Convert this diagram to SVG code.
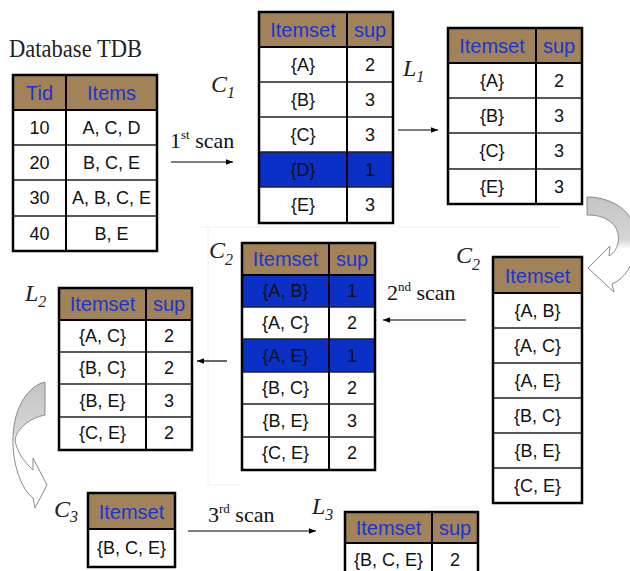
<svg xmlns="http://www.w3.org/2000/svg" width="630" height="571" viewBox="0 0 630 571">
<style>
.hdr{fill:#a28359}
.cell{fill:#ffffff}
.hl{fill:#0a30c8}
.out{fill:none;stroke:#000;stroke-width:2.5}
.grid{stroke:#222;stroke-width:1.4}
.col{stroke:#000;stroke-width:2}
.ht{font-family:"Liberation Sans",Arial,sans-serif;font-size:20px;fill:#1836d4;text-anchor:middle}
.bt{font-family:"Liberation Sans",Arial,sans-serif;font-size:18px;fill:#111;text-anchor:middle}
.lbl{font-family:"Liberation Serif","Times New Roman",serif;font-style:italic;font-size:24px;fill:#222}
.sub{font-size:16px}
.scan{font-family:"Liberation Serif","Times New Roman",serif;font-size:22px;fill:#111}
.sup{font-size:13px}
.conn{stroke:#000;stroke-width:1.2;fill:none}
.faint{stroke:#eeeeee;stroke-width:1;fill:none}
</style>
<defs>
<marker id="ah" viewBox="0 0 10 10" refX="10" refY="5" markerWidth="7" markerHeight="7" markerUnits="userSpaceOnUse" orient="auto">
<path d="M0,1 L10,5 L0,9 Z" fill="#000"/>
</marker>
<linearGradient id="g1" x1="0" y1="0" x2="0" y2="1">
<stop offset="0" stop-color="#c4c4c4"/>
<stop offset="0.45" stop-color="#d6d6d6"/>
<stop offset="0.55" stop-color="#ffffff"/>
<stop offset="1" stop-color="#ffffff"/>
</linearGradient>
<linearGradient id="g2" x1="0" y1="0" x2="0" y2="1">
<stop offset="0" stop-color="#c4c4c4"/>
<stop offset="0.4" stop-color="#d6d6d6"/>
<stop offset="0.47" stop-color="#ffffff"/>
<stop offset="1" stop-color="#ffffff"/>
</linearGradient>
</defs>
<rect width="630" height="571" fill="#ffffff"/>
<g id="faint">
<path class="faint" d="M200,227 H560 M208,227 V485 H240 M430,507 H480"/>
</g>

<g id="labels">
<text x="9" y="57" font-family="'Liberation Serif','Times New Roman',serif" font-size="26" textLength="133" lengthAdjust="spacingAndGlyphs" fill="#222">Database TDB</text>
<text class="lbl" x="211" y="92">C<tspan class="sub" dy="6">1</tspan></text>
<text class="lbl" x="403" y="76">L<tspan class="sub" dy="6">1</tspan></text>
<text class="lbl" x="456" y="263">C<tspan class="sub" dy="7">2</tspan></text>
<text class="lbl" x="209" y="258">C<tspan class="sub" dy="7">2</tspan></text>
<text class="lbl" x="25" y="301">L<tspan class="sub" dy="6">2</tspan></text>
<text class="lbl" x="54" y="517">C<tspan class="sub" dy="5">3</tspan></text>
<text class="lbl" x="312" y="514">L<tspan class="sub" dy="6">3</tspan></text>
<text class="scan" x="170" y="148">1<tspan class="sup" dy="-9">st</tspan><tspan dy="9"> scan</tspan></text>
<text class="scan" x="387" y="300">2<tspan class="sup" dy="-9">nd</tspan><tspan dy="9"> scan</tspan></text>
<text class="scan" x="208" y="522">3<tspan class="sup" dy="-9">rd</tspan><tspan dy="9"> scan</tspan></text>
</g>

<g id="tdb">
<rect class="hdr" x="13" y="75" width="144" height="35"/>
<rect class="cell" x="13" y="110" width="144" height="141"/>
<path class="grid" d="M13,145 H157 M13,180 H157 M13,216 H157"/>
<path class="col" d="M13,110 H157 M66,75 V251"/>
<rect class="out" x="13" y="75" width="144" height="176"/>
<text class="ht" x="39.5" y="100">Tid</text>
<text class="ht" x="111.5" y="100">Items</text>
<text class="bt" x="39.5" y="134">10</text><text class="bt" x="111.5" y="134">A, C, D</text>
<text class="bt" x="39.5" y="169">20</text><text class="bt" x="111.5" y="169">B, C, E</text>
<text class="bt" x="39.5" y="204">30</text><text class="bt" x="111.5" y="204">A, B, C, E</text>
<text class="bt" x="39.5" y="240">40</text><text class="bt" x="111.5" y="240">B, E</text>
</g>

<g id="c1">
<rect class="hdr" x="259" y="12" width="134" height="35"/>
<rect class="cell" x="259" y="47" width="134" height="176"/>
<rect class="hl" x="259" y="152" width="134" height="35"/>
<path class="grid" d="M259,82 H393 M259,117 H393 M259,152 H393 M259,187 H393"/>
<path class="col" d="M259,47 H393 M347,12 V223"/>
<rect class="out" x="259" y="12" width="134" height="211"/>
<text class="ht" x="303" y="37">Itemset</text><text class="ht" x="370" y="37">sup</text>
<text class="bt" x="303" y="71">{A}</text><text class="bt" x="370" y="71">2</text>
<text class="bt" x="303" y="106">{B}</text><text class="bt" x="370" y="106">3</text>
<text class="bt" x="303" y="141">{C}</text><text class="bt" x="370" y="141">3</text>
<text class="bt" x="303" y="176">{D}</text><text class="bt" x="370" y="176">1</text>
<text class="bt" x="303" y="211">{E}</text><text class="bt" x="370" y="211">3</text>
</g>

<g id="l1">
<rect class="hdr" x="448" y="28" width="134" height="35"/>
<rect class="cell" x="448" y="63" width="134" height="141"/>
<path class="grid" d="M448,98 H582 M448,133 H582 M448,169 H582"/>
<path class="col" d="M448,63 H582 M536,28 V204"/>
<rect class="out" x="448" y="28" width="134" height="176"/>
<text class="ht" x="492" y="53">Itemset</text><text class="ht" x="559" y="53">sup</text>
<text class="bt" x="492" y="87">{A}</text><text class="bt" x="559" y="87">2</text>
<text class="bt" x="492" y="122">{B}</text><text class="bt" x="559" y="122">3</text>
<text class="bt" x="492" y="157">{C}</text><text class="bt" x="559" y="157">3</text>
<text class="bt" x="492" y="193">{E}</text><text class="bt" x="559" y="193">3</text>
</g>

<g id="c2r">
<rect class="hdr" x="493" y="257" width="89" height="36"/>
<rect class="cell" x="493" y="293" width="89" height="210"/>
<path class="grid" d="M493,328 H582 M493,363 H582 M493,398 H582 M493,433 H582 M493,468 H582"/>
<path class="col" d="M493,293 H582"/>
<rect class="out" x="493" y="257" width="89" height="246"/>
<text class="ht" x="537.5" y="283">Itemset</text>
<text class="bt" x="537.5" y="317">{A, B}</text>
<text class="bt" x="537.5" y="352">{A, C}</text>
<text class="bt" x="537.5" y="387">{A, E}</text>
<text class="bt" x="537.5" y="422">{B, C}</text>
<text class="bt" x="537.5" y="457">{B, E}</text>
<text class="bt" x="537.5" y="492">{C, E}</text>
</g>

<g id="c2m">
<rect class="hdr" x="242" y="243" width="133" height="32"/>
<rect class="cell" x="242" y="275" width="133" height="195"/>
<rect class="hl" x="242" y="275" width="133" height="32"/>
<rect class="hl" x="242" y="339" width="133" height="33"/>
<path class="grid" d="M242,307 H375 M242,339 H375 M242,372 H375 M242,404 H375 M242,437 H375"/>
<path class="col" d="M242,275 H375 M329,243 V470"/>
<rect class="out" x="242" y="243" width="133" height="227"/>
<text class="ht" x="285.5" y="266">Itemset</text><text class="ht" x="352" y="266">sup</text>
<text class="bt" x="285.5" y="297">{A, B}</text><text class="bt" x="352" y="297">1</text>
<text class="bt" x="285.5" y="329">{A, C}</text><text class="bt" x="352" y="329">2</text>
<text class="bt" x="285.5" y="362">{A, E}</text><text class="bt" x="352" y="362">1</text>
<text class="bt" x="285.5" y="394">{B, C}</text><text class="bt" x="352" y="394">2</text>
<text class="bt" x="285.5" y="427">{B, E}</text><text class="bt" x="352" y="427">3</text>
<text class="bt" x="285.5" y="459">{C, E}</text><text class="bt" x="352" y="459">2</text>
</g>

<g id="l2">
<rect class="hdr" x="59" y="288" width="133" height="32"/>
<rect class="cell" x="59" y="320" width="133" height="130"/>
<path class="grid" d="M59,352 H192 M59,384 H192 M59,417 H192"/>
<path class="col" d="M59,320 H192 M146,288 V450"/>
<rect class="out" x="59" y="288" width="133" height="162"/>
<text class="ht" x="102.5" y="311">Itemset</text><text class="ht" x="169" y="311">sup</text>
<text class="bt" x="102.5" y="342">{A, C}</text><text class="bt" x="169" y="342">2</text>
<text class="bt" x="102.5" y="374">{B, C}</text><text class="bt" x="169" y="374">2</text>
<text class="bt" x="102.5" y="407">{B, E}</text><text class="bt" x="169" y="407">3</text>
<text class="bt" x="102.5" y="439">{C, E}</text><text class="bt" x="169" y="439">2</text>
</g>

<g id="c3">
<rect class="hdr" x="88" y="493" width="87" height="36"/>
<rect class="cell" x="88" y="529" width="87" height="38"/>
<path class="col" d="M88,529 H175"/>
<rect class="out" x="88" y="493" width="87" height="74"/>
<text class="ht" x="131.5" y="519">Itemset</text>
<text class="bt" x="131.5" y="554">{B, C, E}</text>
</g>

<g id="l3">
<rect class="hdr" x="345" y="512" width="133" height="31"/>
<rect class="cell" x="345" y="543" width="133" height="40"/>
<path class="col" d="M345,543 H478 M432,512 V583"/>
<rect class="out" x="345" y="512" width="133" height="71"/>
<text class="ht" x="388.5" y="535">Itemset</text><text class="ht" x="455" y="535">sup</text>
<text class="bt" x="388.5" y="566">{B, C, E}</text><text class="bt" x="455" y="566">2</text>
</g>

<g id="connectors">
<line class="conn" x1="171" y1="162" x2="233" y2="162" marker-end="url(#ah)"/>
<line class="conn" x1="398" y1="130" x2="438" y2="130" marker-end="url(#ah)"/>
<line class="conn" x1="466" y1="320" x2="383" y2="320" marker-end="url(#ah)"/>
<line class="conn" x1="227" y1="361" x2="197" y2="361" marker-end="url(#ah)"/>
<line class="conn" x1="188" y1="531" x2="316" y2="531" marker-end="url(#ah)"/>
<path d="M587,197 C615,197 640,215 636,245 C633,265 626,278 612,284 L614,292 L588,268 L610,246 L609,256 C620,250 622,232 612,223 C604,216 595,215 587,215 Z" fill="url(#g1)" stroke="#8a8a8a" stroke-width="1"/>
<path d="M45,382 C30,385 14,405 13,437 C12,465 22,490 33,498 L35,508 L47,485 L33,458 L33,470 C24,462 16,450 15,440 C17,428 30,418 45,415 Z" fill="url(#g2)" stroke="#8a8a8a" stroke-width="1"/>
</g>
</svg>
